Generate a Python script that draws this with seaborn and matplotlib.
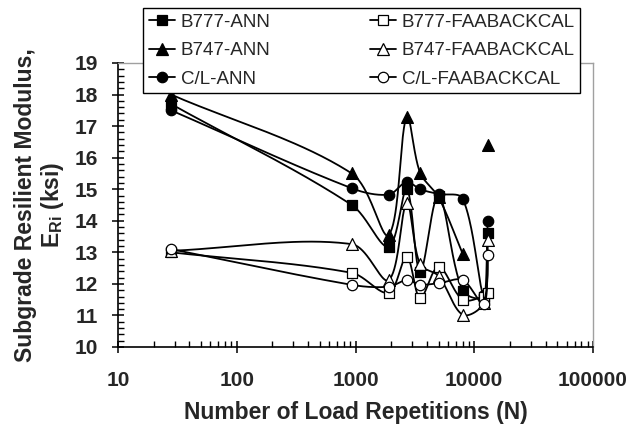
import numpy as np
import pandas as pd
import seaborn as sns
from matplotlib import pyplot as plt
from matplotlib.lines import Line2D
from matplotlib.ticker import FixedLocator, FuncFormatter, LogLocator, MultipleLocator

# load repetitions (x) shared by all series
reps = [28, 930, 1900, 2700, 3500, 5000, 8000, 12000, 13000]

b777_ann = [17.7, 14.5, 13.18, 15.0, 12.38, 14.8, 11.78, 11.6, 13.6]
b747_ann = [18.0, 15.5, 13.55, 17.3, 15.52, 14.75, 12.95, np.nan, 16.4]
cl_ann = [17.5, 15.03, 14.83, 15.23, 15.0, 14.85, 14.7, 11.65, 14.0]
b777_faa = [13.0, 12.35, 11.72, 12.86, 11.55, 12.54, 11.5, 11.6, 11.7]
b747_faa = [13.05, 13.26, 12.12, 14.55, 12.62, 12.25, 11.02, 11.4, 13.4]
cl_faa = [13.1, 11.97, 11.91, 12.12, 11.98, 12.02, 12.12, 11.36, 12.93]

labels = ["B777-ANN", "B747-ANN", "C/L-ANN",
          "B777-FAABACKCAL", "B747-FAABACKCAL", "C/L-FAABACKCAL"]
series = [b777_ann, b747_ann, cl_ann, b777_faa, b747_faa, cl_faa]
markers = ["s", "^", "o", "s", "^", "o"]
filled = [True, True, True, False, False, False]

x_ticks = [10, 100, 1000, 10000, 100000]
y_ticks = list(range(10, 20))

# approximate screen scale (px per decade / px per ksi) for the smoothing
PX_DEC, PX_Y = 118.75, 31.6


def smooth_curve(xs, ys, n=40):
    """Excel-like smoothed line: bezier with tangents scaled by segment length."""
    lx = np.log10(np.asarray(xs, dtype=float)) * PX_DEC
    y = np.asarray(ys, dtype=float) * PX_Y
    P = np.column_stack([lx, y])
    P = np.vstack([P[0], P, P[-1]])
    t = np.linspace(0, 1, n)[:, None]
    out = []
    for i in range(1, len(P) - 2):
        p0, p1, p2, p3 = P[i - 1], P[i], P[i + 1], P[i + 2]
        d01 = np.hypot(*(p1 - p0))
        d12 = np.hypot(*(p2 - p1))
        d23 = np.hypot(*(p3 - p2))
        f1 = d12 / (d01 + d12) / 3 if d01 + d12 > 0 else 0
        f2 = d12 / (d12 + d23) / 3 if d12 + d23 > 0 else 0
        c1 = p1 + (p2 - p0) * f1
        c2 = p2 - (p3 - p1) * f2
        seg = ((1 - t) ** 3) * p1 + 3 * ((1 - t) ** 2) * t * c1 \
            + 3 * (1 - t) * t ** 2 * c2 + t ** 3 * p2
        out.append(seg)
    out = np.vstack(out)
    return 10 ** (out[:, 0] / PX_DEC), out[:, 1] / PX_Y


sns.set_theme(style="ticks")
plt.rcParams["font.family"] = ["Liberation Sans", "DejaVu Sans"]
plt.rcParams["mathtext.fontset"] = "custom"
plt.rcParams["mathtext.rm"] = "Liberation Sans:bold"
plt.rcParams["mathtext.it"] = "Liberation Sans:bold"
plt.rcParams["mathtext.bf"] = "Liberation Sans:bold"

fig = plt.figure(figsize=(6.42, 4.25), dpi=100)
ax = fig.add_axes([118 / 642, 1 - 347 / 425, 475 / 642, 284 / 425])

handles = []
for k, (lab, ys, mk, fl) in enumerate(zip(labels, series, markers, filled)):
    df = pd.DataFrame({"reps": reps, "val": ys})
    # split at gaps like Excel does
    grp = df["val"].isna().cumsum()
    for _, part in df.dropna().groupby(grp[df["val"].notna()]):
        if len(part) > 1:
            cx, cy = smooth_curve(part["reps"], part["val"])
            ax.plot(cx, cy, color="black", lw=1.3, zorder=2 + 2 * k)
    ms = 8.5 if mk == "^" else 7.5
    sns.scatterplot(
        data=df.dropna(), x="reps", y="val", ax=ax, marker=mk,
        s=ms ** 2, color="black" if fl else "white",
        edgecolor="black", linewidth=0.9, zorder=3 + 2 * k, legend=False,
    )
    handles.append(Line2D([], [], color="black", lw=1.3, marker=mk,
                          markersize=ms, markerfacecolor="black" if fl else "white",
                          markeredgecolor="black", markeredgewidth=0.9))

ax.set_xscale("log")
ax.set_xlim(10, 100000)
ax.set_ylim(10, 19)
ax.xaxis.set_major_locator(FixedLocator(x_ticks))
ax.xaxis.set_major_formatter(FuncFormatter(lambda v, p: f"{int(round(v))}"))
ax.xaxis.set_minor_locator(LogLocator(base=10, subs=np.arange(2, 10)))
ax.xaxis.set_minor_formatter(FuncFormatter(lambda v, p: ""))
ax.yaxis.set_major_locator(FixedLocator(y_ticks))
ax.yaxis.set_minor_locator(MultipleLocator(0.2))

ax.tick_params(axis="both", which="major", direction="inout", length=9,
               width=1.1, color="black", labelsize=15)
ax.tick_params(axis="x", which="major", pad=13)
ax.tick_params(axis="y", which="major", pad=10)
ax.tick_params(axis="both", which="minor", direction="in", length=4,
               width=1.0, color="black")
for lbl in ax.get_xticklabels() + ax.get_yticklabels():
    lbl.set_fontweight("bold")

for side in ["left", "bottom"]:
    ax.spines[side].set_color("black")
    ax.spines[side].set_linewidth(1.2)
for side in ["top", "right"]:
    ax.spines[side].set_visible(True)
    ax.spines[side].set_color("#a0a0a0")
    ax.spines[side].set_linewidth(1.0)

ax.set_xlabel("Number of Load Repetitions (N)", fontsize=16.5,
              fontweight="bold", labelpad=8)
ax.set_ylabel("Subgrade Resilient Modulus,\nE$_{\\mathrm{Ri}}$ (ksi)",
              fontsize=16.5, fontweight="bold", labelpad=6, linespacing=1.1)

leg = ax.legend(handles, labels, ncol=2, loc="upper left",
                bbox_to_anchor=(143 / 642, 1 - 8 / 425),
                bbox_transform=fig.transFigure, fontsize=13.5, frameon=True,
                fancybox=False, framealpha=1, edgecolor="black",
                borderpad=0.3, columnspacing=5.3, handlelength=1.4,
                handletextpad=0.3, labelspacing=0.6, borderaxespad=0)
leg.get_frame().set_linewidth(1.0)
leg.set_zorder(20)

fig.savefig("out.png", dpi=100)
